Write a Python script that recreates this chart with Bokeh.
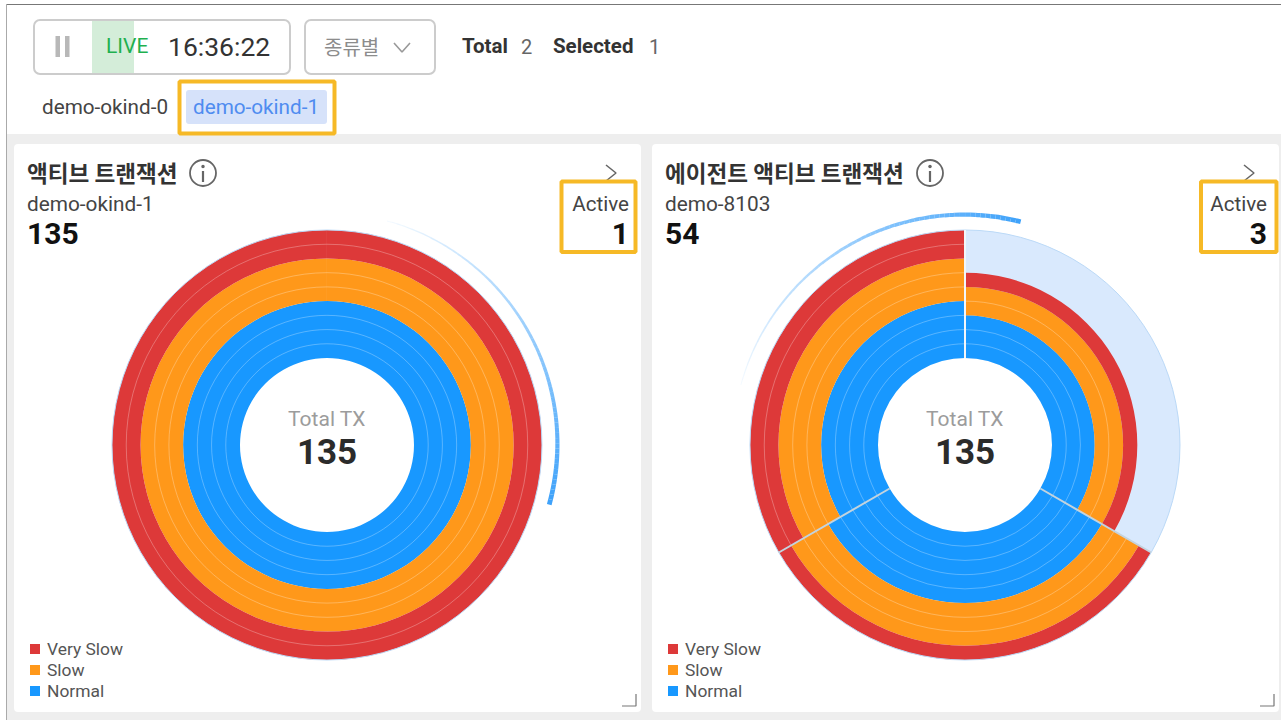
import numpy as np
from bokeh.plotting import figure
from bokeh.models import ColumnDataSource, Range1d
from bokeh.core.properties import value
from bokeh.embed import file_html
from bokeh.resources import INLINE

status_names = ["Very Slow", "Slow", "Normal"]
status_colors = ["#DD3939", "#FF981A", "#1898FF"]
# ring counts per agent sector (clockwise from the top)
left_normal = [4]
left_slow = [3]
left_very_slow = [2]
right_normal = [3, 5, 4]
right_slow = [2, 3, 3]
right_very_slow = [1, 1, 2]
left_total = 135
right_total = 135
left_name, left_value, left_active = "demo-okind-1", "135", "1"
right_name, right_value, right_active = "demo-8103", "54", "3"
left_title = "액티브 트랜잭션"
right_title = "에이전트 액티브 트랜잭션"
tabs = ["demo-okind-0", "demo-okind-1"]
# rotating highlight sweep, degrees clockwise from the top
left_sweep = [15, 105]
right_sweep = [-75, 14]
right_selected_sector = 0

W, H = 1281, 720
p = figure(width=W, height=H, output_backend="svg", toolbar_location=None,
           x_range=Range1d(0.5, W + 0.5), y_range=Range1d(H + 0.5, 0.5), min_border=0,
           background_fill_color="white", border_fill_color="white")
p.axis.visible = False
p.grid.visible = False
p.outline_line_color = None

KR = "Noto Sans CJK KR"
RB = "Roboto"


def txt(x, y, s, size, color, font=RB, bold=False, align="left"):
    p.text([x], [y], text=[s], text_font=value(font), text_font_size=f"{size}px",
           text_color=color, text_align=align, text_baseline="middle",
           text_font_style="bold" if bold else "normal")


def box(l, t, r, b, fill=None, line=None, lw=1, radius=0):
    p.quad(left=[l], right=[r], top=[t], bottom=[b],
           fill_color=fill, fill_alpha=1 if fill else 0,
           line_color=line, line_width=lw, line_alpha=1 if line else 0,
           border_radius=radius)


def polyline(xs, ys, color, lw):
    p.line(xs, ys, line_color=color, line_width=lw)


def clock(deg):
    return np.pi / 2 - np.radians(deg)


R0 = 87.0
STEP = 14.22
R_MAX = 215.0
CY = 445.0


def donut(cx, normal, slow, very_slow, sweep, total, selected=None):
    n = len(normal)
    span = 360.0 / n
    if selected is not None:
        a = selected * span
        p.annular_wedge([cx], [CY], inner_radius=R0, outer_radius=R_MAX,
                        start_angle=clock(a), end_angle=clock(a + span), direction="clock",
                        fill_color="#D9E9FD", line_color=None)
    for i in range(n):
        a0, a1 = i * span, (i + 1) * span
        if n == 1:
            a1 -= 0.01
        start = 0
        for count, col in zip([normal[i], slow[i], very_slow[i]], status_colors[::-1]):
            p.annular_wedge([cx], [CY], inner_radius=R0 + start * STEP,
                            outer_radius=R0 + (start + count) * STEP,
                            start_angle=clock(a0), end_angle=clock(a1), direction="clock",
                            fill_color=col, line_color=None)
            for k in range(1, count):
                p.arc([cx], [CY], radius=R0 + (start + k) * STEP,
                      start_angle=clock(a0), end_angle=clock(a1), direction="clock",
                      line_color="white", line_alpha=0.28, line_width=1)
            start += count
    # outer hairline
    p.arc([cx], [CY], radius=R_MAX, start_angle=clock(0), end_angle=clock(359.99),
          direction="clock", line_color="#BBD9F7", line_width=1)
    if n > 1:
        for i in range(n):
            a = np.radians(i * span)
            xs = [cx + R0 * np.sin(a), cx + R_MAX * np.sin(a)]
            ys = [CY - R0 * np.cos(a), CY - R_MAX * np.cos(a)]
            polyline(xs, ys, "#F2F6FA" if i == 0 else "#C3D3DE", 2)
    # sweep fading in toward its leading end
    m = 70
    ang = np.linspace(sweep[0], sweep[1], m + 1)
    t = np.linspace(0, 1, m)
    src = ColumnDataSource(dict(x=[cx] * m, y=[CY] * m,
                                r0=232.5 - (1.0 + 3.8 * t), r1=[232.5] * m,
                                s=clock(ang[:-1]), e=clock(ang[1:]),
                                a=0.06 + 0.94 * t))
    p.annular_wedge("x", "y", inner_radius="r0", outer_radius="r1", start_angle="s", end_angle="e",
                    direction="clock", fill_color="#3FA2FA", fill_alpha="a", line_color=None, source=src)
    txt(cx, 419, "Total TX", 21, "#9C9C9C", align="center")
    txt(cx, 451, str(total), 35, "#2B2B2B", bold=True, align="center")


def chevron_right(x, t, b, w=10):
    polyline([x, x + w, x], [t, (t + b) / 2, b], "#666666", 1.6)


def panel(l, r, title, info_x, name, val, active, active_x):
    box(l, 144, r, 712, fill="white", radius=4)
    tx = l + 13
    txt(tx, 172, title, 22.6, "#333333", font=KR, bold=True)
    p.scatter([info_x], [173], size=26, marker="circle", fill_color=None, line_color="#666666", line_width=1.8)
    p.scatter([info_x], [166.5], size=3.5, marker="circle", fill_color="#666666", line_color=None)
    polyline([info_x, info_x], [171, 182], "#666666", 2.2)
    chevron_right(r - 35, 165, 181)
    txt(tx, 204, name, 20.8, "#444444")
    txt(tx, 233, val, 30, "#111111", bold=True)
    txt(active_x + 3, 204, "Active", 20.6, "#444444", align="right")
    txt(active_x + 3, 233, active, 30, "#111111", bold=True, align="right")
    # legend
    for i, (nm, col) in enumerate(zip(status_names, status_colors)):
        y = 649 + i * 21
        box(l + 16, y - 5, l + 26, y + 5, fill=col)
        txt(l + 33, y, nm, 17.4, "#555555")
    # resize handle
    polyline([r - 19, r - 5, r - 5], [706, 706, 694], "#777777", 1.2)


# page
box(6, 4, W + 5, 134, fill="white")
box(6, 134, W + 5, H + 5, fill="#EEEEEE")
polyline([6, W + 1], [4.5, 4.5], "#777777", 1)
polyline([6.5, 6.5], [4, H + 1], "#AAAAAA", 1)

# toolbar
box(34, 20, 290, 74, fill="white", line="#CCCCCC", lw=2, radius=6)
box(92, 21, 134, 73, fill="#D4EDD9")
box(55.5, 36, 60, 57, fill="#B8B8B8")
box(65, 36, 69.5, 57, fill="#B8B8B8")
txt(106, 46, "LIVE", 21, "#1FB04F")
txt(168, 46, "16:36:22", 26.5, "#333333")
box(305, 20, 435, 74, fill="white", line="#CCCCCC", lw=2, radius=6)
txt(324, 46, "종류별", 20, "#8C8C8C", font=KR)
polyline([394, 402, 410], [43, 52, 43], "#999999", 1.6)
txt(462, 46, "Total", 20.5, "#333333", bold=True)
txt(521, 46, "2", 20, "#666666")
txt(553, 46, "Selected", 20.5, "#333333", bold=True)
txt(649, 46, "1", 20, "#666666")

# tabs
txt(42, 107, tabs[0], 20.7, "#444444")
box(186, 90, 327, 124, fill="#D6E2FA", radius=3)
txt(193, 107, tabs[1], 20.7, "#4F8CF0")
box(179.5, 81.5, 334.5, 133.5, line="#F6B926", lw=4)

# panels
panel(14, 641, left_title, 203, left_name, left_value, left_active, 626)
panel(652, 1279, right_title, 930, right_name, right_value, right_active, 1264)
donut(327, left_normal, left_slow, left_very_slow, left_sweep, left_total)
donut(965, right_normal, right_slow, right_very_slow, right_sweep, right_total, selected=right_selected_sector)

# highlight frames
box(561.5, 181.5, 635.5, 252, line="#F6B926", lw=4)
box(1201, 181.5, 1276.5, 252, line="#F6B926", lw=4)

open("out.html", "w").write(file_html(p, INLINE))
